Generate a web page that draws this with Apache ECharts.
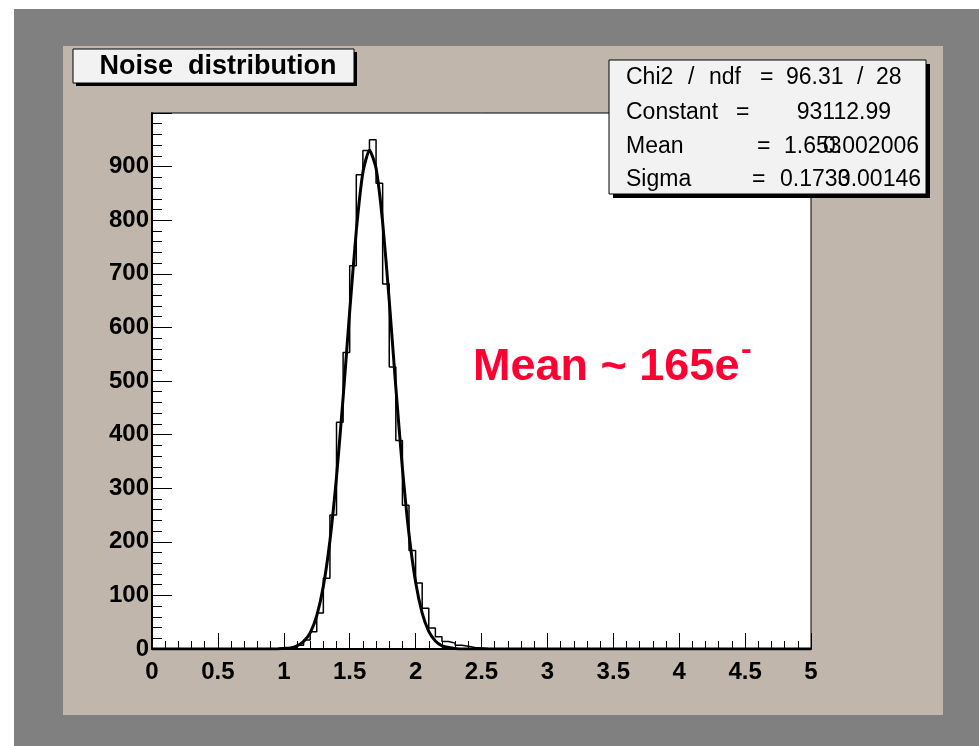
<!DOCTYPE html>
<html>
<head>
<meta charset="utf-8">
<script src="https://cdn.jsdelivr.net/npm/echarts@6/dist/echarts.min.js"></script>
<style>
  html, body { margin: 0; padding: 0; background: #ffffff; }
  #chart { width: 979px; height: 746px; }
</style>
</head>
<body>
<div id="chart"></div>
<script>
// ---- data ----
const titleText = 'Noise  distribution';
// histogram: left edge of each 0.05-wide bin and its count
const binWidth = 0.05;
const binLeft = [1.00, 1.05, 1.10, 1.15, 1.20, 1.25, 1.30, 1.35, 1.40, 1.45,
                 1.50, 1.55, 1.60, 1.65, 1.70, 1.75, 1.80, 1.85, 1.90, 1.95,
                 2.00, 2.05, 2.10, 2.15, 2.20, 2.25, 2.30, 2.35, 2.40, 2.45, 2.50];
const binCounts = [1, 3, 7, 17, 32, 67, 132, 250, 423, 553,
                   715, 885, 930, 950, 869, 681, 526, 389, 268, 184,
                   123, 76, 39, 23, 14, 11, 7, 5, 3, 2, 1];
// gaussian fit curve
const fitX = [0, 0.95, 1.00, 1.05, 1.10, 1.15, 1.20, 1.25, 1.30, 1.35, 1.40, 1.45,
              1.50, 1.55, 1.60, 1.65, 1.70, 1.75, 1.80, 1.85, 1.90, 1.95,
              2.00, 2.05, 2.10, 2.15, 2.20, 2.25, 2.30, 2.35, 5];
const fitY = [0, 0, 1, 2, 6, 14, 30, 62, 117, 202, 321, 469,
              630, 780, 889, 931, 897, 796, 650, 488, 337, 214,
              125, 67, 33, 15, 6, 3, 1, 0, 0];
const xRange = [0, 5];
const yRange = [0, 1000];
// stats box texts
const chiParts = ['Chi2', '/', 'ndf', '=', '96.31', '/', '28'];
const statNames = ['Constant', 'Mean', 'Sigma'];
const statValues = ['93112.99', '1.653', '0.1733'];
const statErrors = ['', '0.002006', '0.00146'];
const noteText = 'Mean ~ 165e';
const noteSup = '-';

// ---- build series data ----
const histData = [[xRange[0], 0]];
binLeft.forEach((x, i) => histData.push([x, binCounts[i]]));
histData.push([binLeft[binLeft.length - 1] + binWidth, 0]);
histData.push([xRange[1], 0]);
const fitData = fitX.map((x, i) => [x, fitY[i]]);

const FONT = '"Liberation Sans", Arial, Helvetica, sans-serif';
const SF = '23px ' + FONT;
const chart = echarts.init(document.getElementById('chart'), null, {renderer: 'canvas'});

const txt = (x, y, t, font, align) => ({
  type: 'text', z: 110, x: x, y: y,
  style: {text: t, font: font, fill: '#000', textAlign: align || 'left', textVerticalAlign: 'middle'}
});

const graphics = [
  // backgrounds
  {type: 'rect', z: -20, shape: {x: 14, y: 9, width: 965, height: 737}, style: {fill: '#808080'}},
  {type: 'rect', z: -19, shape: {x: 63, y: 46, width: 880, height: 669}, style: {fill: '#c0b6ac'}},
  // title box with shadow
  {type: 'rect', z: 100, shape: {x: 76, y: 52, width: 281, height: 34}, style: {fill: '#000'}},
  {type: 'rect', z: 101, shape: {x: 73, y: 49, width: 281, height: 34}, style: {fill: '#f2f2f2', stroke: '#000', lineWidth: 1}},
  {type: 'text', z: 102, x: 218, y: 67, style: {text: titleText, font: 'bold 27px ' + FONT, fill: '#000', textAlign: 'center', textVerticalAlign: 'middle'}},
  // stats box with shadow
  {type: 'rect', z: 100, shape: {x: 613, y: 64, width: 317, height: 134}, style: {fill: '#000'}},
  {type: 'rect', z: 101, shape: {x: 609, y: 60, width: 317, height: 134}, style: {fill: '#f2f2f2', stroke: '#000', lineWidth: 1}},
];

// stats line 1
const chiX = [626, 688, 709, 760, 786, 857, 876];
chiParts.forEach((p, i) => graphics.push(txt(chiX[i], 78, p, SF)));
// Constant
graphics.push(txt(626, 113, statNames[0], SF));
graphics.push(txt(736, 113, '=', SF));
graphics.push(txt(891, 113, statValues[0], SF, 'right'));
// Mean
graphics.push(txt(626, 147, statNames[1], SF));
graphics.push(txt(757, 147, '=', SF));
graphics.push(txt(784, 147, statValues[1], SF));
graphics.push(txt(919, 147, statErrors[1], SF, 'right'));
// Sigma
graphics.push(txt(626, 180, statNames[2], SF));
graphics.push(txt(752, 180, '=', SF));
graphics.push(txt(780, 180, statValues[2], SF));
graphics.push(txt(921, 180, statErrors[2], SF, 'right'));

// red annotation
graphics.push({type: 'text', z: 110, x: 473, y: 368, style: {text: noteText, font: 'bold 45px ' + FONT, fill: '#ff0033', textVerticalAlign: 'middle'}});
graphics.push({type: 'text', z: 110, x: 741, y: 350, style: {text: noteSup, font: 'bold 32px ' + FONT, fill: '#ff0033', textVerticalAlign: 'middle'}});

const option = {
  animation: false,
  backgroundColor: 'transparent',
  grid: {
    left: 152, right: 168, top: 113, bottom: 97,
    show: true, backgroundColor: '#ffffff', borderColor: '#000', borderWidth: 1
  },
  xAxis: {
    type: 'value', min: xRange[0], max: xRange[1], interval: 0.5,
    axisLine: {show: true, onZero: false, lineStyle: {color: '#000', width: 2}},
    axisTick: {show: true, inside: true, length: 16, lineStyle: {color: '#000', width: 1}},
    minorTick: {show: true, splitNumber: 5, length: 8, lineStyle: {color: '#000', width: 1}},
    splitLine: {show: false},
    axisLabel: {fontFamily: FONT, fontWeight: 'bold', fontSize: 24, color: '#000', margin: 11}
  },
  yAxis: {
    type: 'value', min: yRange[0], max: yRange[1], interval: 100,
    axisLine: {show: true, onZero: false, lineStyle: {color: '#000', width: 2}},
    axisTick: {show: true, inside: true, length: 20, lineStyle: {color: '#000', width: 1}},
    minorTick: {show: true, splitNumber: 5, length: 10, lineStyle: {color: '#000', width: 1}},
    splitLine: {show: false},
    axisLabel: {fontFamily: FONT, fontWeight: 'bold', fontSize: 24, color: '#000', margin: 3, showMaxLabel: false,
      formatter: v => (v >= yRange[1] ? '' : String(v))}
  },
  series: [
    {
      name: 'hist', type: 'line', step: 'end', data: histData, symbol: 'none',
      lineStyle: {color: '#000', width: 1.5}, z: 3
    },
    {
      name: 'fit', type: 'line', data: fitData, symbol: 'none', smooth: 0.2,
      lineStyle: {color: '#000', width: 3}, z: 4
    }
  ],
  graphic: {elements: graphics}
};
chart.setOption(option);
</script>
</body>
</html>
